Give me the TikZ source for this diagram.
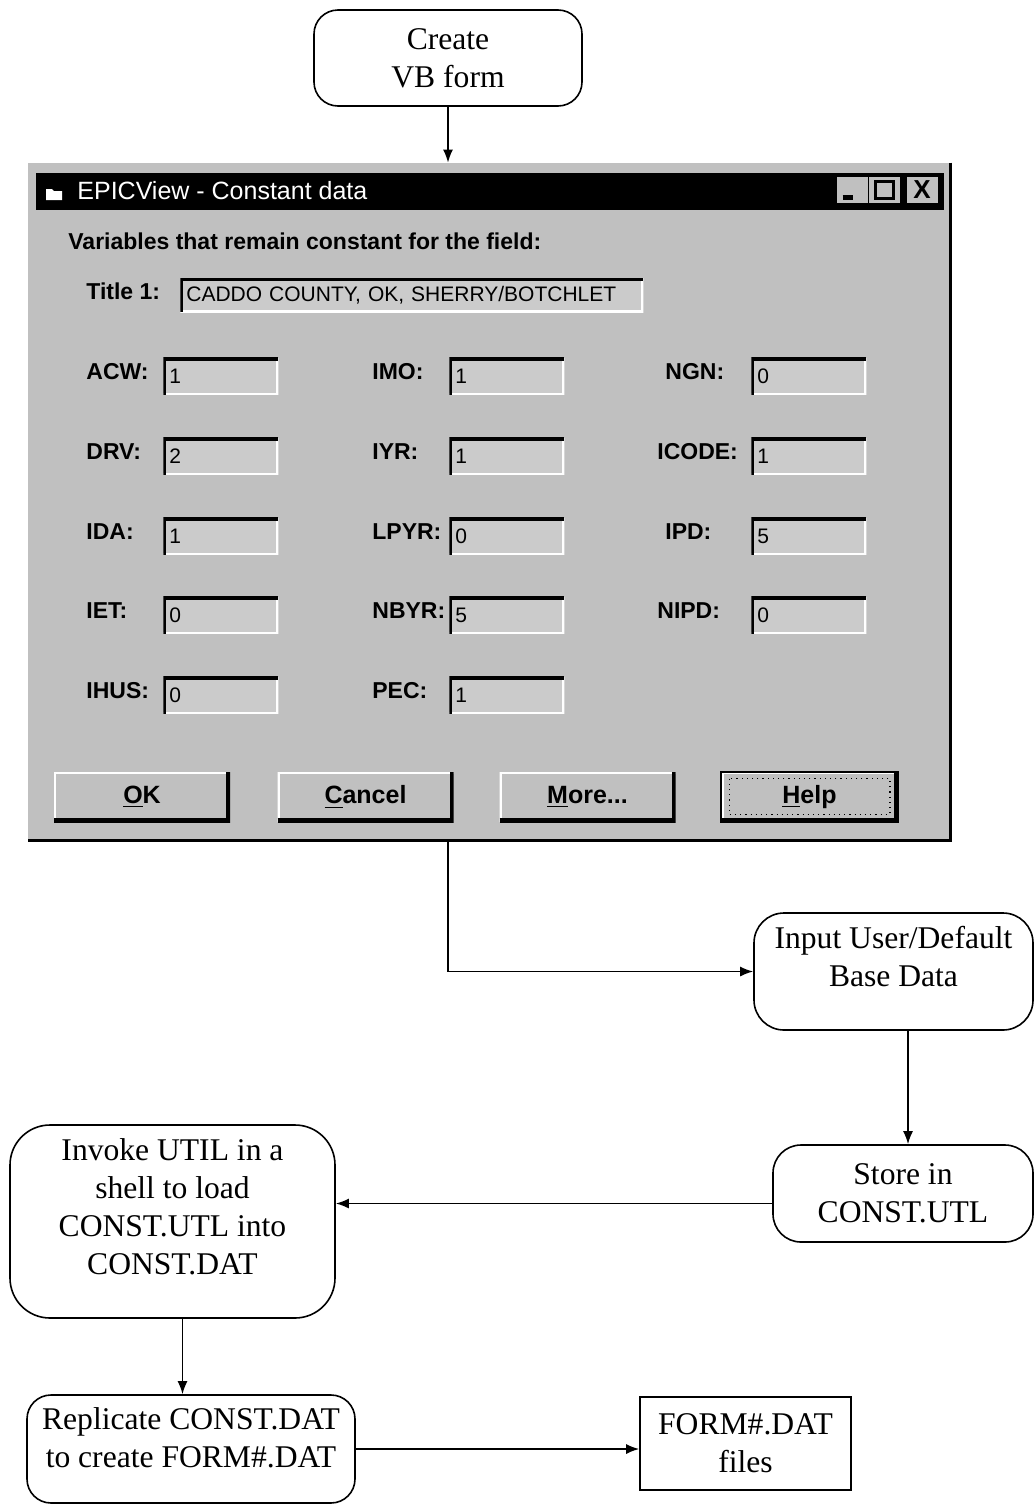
\documentclass[tikz,border=0pt]{standalone}
\usepackage{fontspec}
\setmainfont{Liberation Serif}
\newfontfamily\winfont{Liberation Sans}
\usetikzlibrary{arrows.meta,positioning}
\definecolor{wingray}{RGB}{192,192,192}
\definecolor{fieldgray}{RGB}{203,203,203}

\begin{document}
\begin{tikzpicture}[
    x=0.5pt,
    y=-0.5pt,
    font=\fontsize{15.8}{19}\selectfont,
    box/.style={draw, rounded corners=12pt, line width=0.8pt, align=center, inner sep=2pt},
    filebox/.style={draw, line width=0.8pt, align=center, inner sep=2pt},
    arrow/.style={-{Latex[length=6.5pt,width=5pt]}, line width=0.8pt},
    lbl/.style={anchor=west, inner sep=0pt, font=\winfont\bfseries\fontsize{11.5}{13}\selectfont},
    field/.style={anchor=west, fill=fieldgray, minimum width=57.5pt, minimum height=18.5pt,
      inner xsep=3pt, inner ysep=0pt, text width=51.5pt, align=left,
      font=\winfont\fontsize{10.5}{12}\selectfont},
    sunken/.style={path picture={
      \draw[white, line width=2pt] (path picture bounding box.south west) -- (path picture bounding box.south east) -- (path picture bounding box.north east);
      \draw[black, line width=3pt] (path picture bounding box.south west) -- (path picture bounding box.north west) -- (path picture bounding box.north east);}},
    button/.style={fill=wingray, minimum width=88pt, minimum height=25pt, inner sep=0pt,
      font=\winfont\bfseries\fontsize{12.5}{14}\selectfont,
      path picture={
      \draw[white, line width=2pt] (path picture bounding box.south west) -- (path picture bounding box.north west) -- (path picture bounding box.north east);
      \draw[black, line width=4pt] (path picture bounding box.south west) -- (path picture bounding box.south east) -- (path picture bounding box.north east);}},
    capbtn/.style={fill=wingray, minimum width=15.5pt, minimum height=13pt, inner sep=0pt}
  ]
  \useasboundingbox (0,0) rectangle (1035,1505);
  % Pixel grid of the page: x to the right, y downwards

  % --- Start ---
  \node[box, minimum width=134pt, minimum height=48pt] (create) at (448,58) {Create\\VB form};

  % --- Constant data window ---
  \node[fill=wingray, minimum width=461pt, minimum height=338.5pt, inner sep=0pt] (win) at (489,501.5) {};
  \draw[line width=1.5pt] (win.north east) -- (win.south east) -- (win.south west);
  \node[fill=black, minimum width=454pt, minimum height=18.5pt, inner sep=0pt] (bar) at (490,191.5) {};
  \fill[white] (46,189) -- (52,189) -- (54,191) -- (62,191) -- (62,200) -- (46,200) -- cycle;
  \node[anchor=west, inner sep=0pt, text=white, font=\winfont\fontsize{12.5}{14}\selectfont] (wintitle) at (77,191) {EPICView - Constant data};
  \node[capbtn] (minbtn) at (852.5,190) {};
  \node[capbtn] (maxbtn) at (884.5,190) {};
  \node[capbtn, font=\winfont\bfseries\fontsize{13}{13}\selectfont] (closebtn) at (922,190) {X};
  \draw[line width=2.5pt] ([shift={(3pt,3pt)}]minbtn.south west) -- ++(5pt,0);
  \draw[line width=1.5pt] ([shift={(3.5pt,2.5pt)}]maxbtn.south west) rectangle ([shift={(-3.5pt,-2.5pt)}]maxbtn.north east);

  \node[lbl] (heading) at (68,241) {Variables that remain constant for the field:};
  \node[lbl] (titlelbl) at (86,291) {Title 1:};
  \node[field, sunken, minimum width=231.5pt, text width=225.5pt, minimum height=17pt] (titlefld) at (180,295) {CADDO COUNTY, OK, SHERRY/BOTCHLET};

  % row 1
  \node[lbl] (acwlbl) at (86,372) {ACW:};
  \node[field, sunken] (acw) at (163,376) {1};
  \node[lbl] (imolbl) at (372,372) {IMO:};
  \node[field, sunken] (imo) at (449,376) {1};
  \node[lbl] (ngnlbl) at (665,372) {NGN:};
  \node[field, sunken] (ngn) at (751,376) {0};
  % row 2
  \node[lbl] (drvlbl) at (86,452) {DRV:};
  \node[field, sunken] (drv) at (163,456) {2};
  \node[lbl] (iyrlbl) at (372,452) {IYR:};
  \node[field, sunken] (iyr) at (449,456) {1};
  \node[lbl] (icodelbl) at (657,452) {ICODE:};
  \node[field, sunken] (icode) at (751,456) {1};
  % row 3
  \node[lbl] (idalbl) at (86,532) {IDA:};
  \node[field, sunken] (ida) at (163,536) {1};
  \node[lbl] (lpyrlbl) at (372,532) {LPYR:};
  \node[field, sunken] (lpyr) at (449,536) {0};
  \node[lbl] (ipdlbl) at (665,532) {IPD:};
  \node[field, sunken] (ipd) at (751,536) {5};
  % row 4
  \node[lbl] (ietlbl) at (86,611) {IET:};
  \node[field, sunken] (iet) at (163,615) {0};
  \node[lbl] (nbyrlbl) at (372,611) {NBYR:};
  \node[field, sunken] (nbyr) at (449,615) {5};
  \node[lbl] (nipdlbl) at (657,611) {NIPD:};
  \node[field, sunken] (nipd) at (751,615) {0};
  % row 5
  \node[lbl] (ihuslbl) at (86,691) {IHUS:};
  \node[field, sunken] (ihus) at (163,695) {0};
  \node[lbl] (peclbl) at (372,691) {PEC:};
  \node[field, sunken] (pec) at (449,695) {1};

  % buttons
  \node[button] (ok)     at (142,797)   {\underline{O}K};
  \node[button] (cancel) at (365.5,797) {\underline{C}ancel};
  \node[button] (more)   at (587.5,797) {\underline{M}ore...};
  \node[button] (help)   at (809.5,797) {\underline{H}elp};
  \draw[line width=1pt] (help.north west) rectangle (help.south east);
  \draw[dotted, line width=0.6pt] ([shift={(4pt,-3.5pt)}]help.north west) rectangle ([shift={(-4pt,4pt)}]help.south east);

  % --- Flow boxes (text sits a little above the middle) ---
  \node[box, rounded corners=15pt, minimum width=139.5pt, minimum height=58.5pt] (input) at (893.5,971.5) {Input User/Default\\Base Data\\[-4pt]\mbox{}};
  \node[box, rounded corners=14pt, minimum width=130pt, minimum height=48.5pt] (store) at (903,1193.5) {Store in\\CONST.UTL};
  \node[box, rounded corners=20pt, minimum width=162.5pt, minimum height=96.5pt] (invoke) at (172.5,1221.5) {Invoke UTIL in a\\shell to load\\CONST.UTL into\\CONST.DAT\\[-4pt]\mbox{}};
  \node[box, minimum width=164pt, minimum height=54pt] (replicate) at (191,1449) {Replicate CONST.DAT\\to create FORM\#.DAT\\[-8pt]\mbox{}};
  \node[filebox, minimum width=105.5pt, minimum height=46.5pt] (form) at (745.5,1443.5) {FORM\#.DAT\\files};

  % --- Arrows ---
  \draw[arrow] (create.south) -- (create.south |- win.north);
  \draw[arrow] (create.south |- win.south) |- (input.west);
  \draw[arrow] ([xshift=2.5pt]store.north |- input.south) -- ([xshift=2.5pt]store.north);
  \draw[arrow] ([yshift=-5pt]store.west) -- ([yshift=-5pt]store.west -| invoke.east);
  \draw[arrow] ([xshift=5pt]invoke.south) -- ([xshift=5pt]invoke.south |- replicate.north);
  \draw[arrow] (replicate.east) -- (replicate.east -| form.west);

\end{tikzpicture}
\end{document}
